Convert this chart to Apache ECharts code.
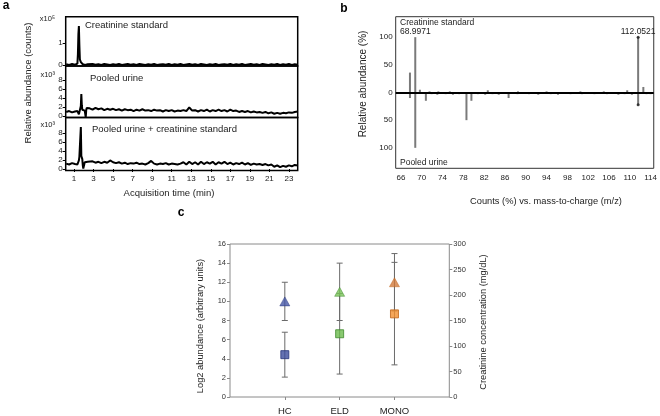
<!DOCTYPE html>
<html><head><meta charset="utf-8">
<script src="https://cdn.jsdelivr.net/npm/echarts@6/dist/echarts.min.js"></script>
<style>html,body{margin:0;padding:0;background:#fff}#c{width:660px;height:416px}</style>
</head><body><div id="c"></div>
<script>
// ---------- Panel a : chromatograms ----------
const timeA = [0.2,0.5,0.8,1.1,
  1.3,1.35,1.4,1.45,1.5,1.55,1.6,1.65,1.7,1.75,1.8,1.85,1.9,1.95,2.0,2.05,2.1,2.15,2.2,2.25,2.3,
  2.4,
  2.6,2.9,3.2,3.5,3.8,4.1,4.4,4.7,5.0,5.3,
  5.6,5.9,6.2,6.5,6.8,7.1,7.4,7.7,8.0,8.3,
  8.6,8.9,9.2,9.5,9.8,10.1,10.4,10.7,11.0,11.3,
  11.6,11.9,12.2,12.5,12.8,13.1,13.4,13.7,14.0,14.3,
  14.6,14.9,15.2,15.5,15.8,16.1,16.4,16.7,17.0,17.3,
  17.6,17.9,18.2,18.5,18.8,19.1,19.4,19.7,20.0,20.3,
  20.6,20.9,21.2,21.5,21.8,22.1,22.4,22.7,23.0,23.3,
  23.6,23.9];
const stdTrace = [0.03,0.0,0.04,0.01,
  0.02,0.06,0.5,1.4,1.77,0.9,0.25,0.18,0.13,0.09,0.06,0.04,0.03,0.02,0.04,0.01,0.03,0.0,0.02,0.04,0.01,
  0.03,
  0.0,0.04,0.01,0.03,0.0,0.04,0.02,0.0,0.03,0.01,
  0.04,0.0,0.02,0.04,0.01,0.03,0.0,0.04,0.02,0.0,
  0.03,0.01,0.04,0.0,0.02,0.03,0.01,0.04,0.0,0.03,
  0.01,0.04,0.0,0.02,0.04,0.01,0.03,0.0,0.04,0.02,
  0.0,0.03,0.01,0.04,0.0,0.02,0.03,0.01,0.04,0.0,
  0.03,0.01,0.04,0.0,0.02,0.04,0.01,0.03,0.0,0.04,
  0.02,0.0,0.03,0.01,0.04,0.0,0.03,0.01,0.04,0.0,
  0.03,0.01];
const urineTrace = [0.9,1.1,0.8,1.0,
  0.9,1.1,0.7,0.9,0.4,0.1,0.3,0.6,2.2,4.9,2.4,1.4,1.7,1.0,1.5,1.7,1.2,0.8,-0.3,1.3,1.8,
  1.5,
  1.7,1.4,1.8,1.5,1.7,1.3,1.6,1.4,1.6,1.3,
  1.5,1.2,1.5,1.3,1.4,1.1,1.4,1.2,1.5,1.2,
  1.3,1.1,1.4,1.2,1.3,1.0,1.3,1.1,1.3,1.0,
  1.2,1.1,1.3,1.1,1.9,1.2,1.3,1.0,1.3,1.1,
  1.4,1.0,1.3,1.1,1.4,1.1,1.3,1.0,1.4,1.1,
  1.2,0.9,1.1,0.9,1.1,0.8,1.0,0.8,0.9,0.7,
  0.9,0.6,0.8,0.5,0.7,0.5,0.7,0.6,0.8,0.7,
  0.9,1.0];
const mixTrace = [1.2,1.0,1.3,1.1,
  1.2,1.0,1.3,1.1,1.9,2.7,3.0,2.8,9.3,2.9,2.6,2.2,0.8,0.1,-0.2,0.3,1.5,1.7,1.4,1.6,1.5,
  1.6,
  1.5,1.7,1.4,1.6,1.3,1.6,1.4,1.9,1.5,1.3,
  1.5,1.2,1.4,1.1,1.3,1.2,1.4,1.1,1.2,1.0,
  1.3,1.8,1.2,1.0,1.2,1.1,1.3,1.0,1.2,1.1,
  1.0,1.2,1.5,1.0,1.6,1.1,1.5,1.0,1.6,1.1,
  1.5,1.2,1.6,1.0,1.5,1.2,1.6,1.1,1.4,1.0,
  1.3,1.1,1.4,1.0,1.3,0.9,1.2,1.0,1.1,0.9,
  1.1,0.8,1.0,0.5,0.8,0.4,0.7,0.5,0.8,0.6,
  0.9,0.8];
const timeTicks = [1,3,5,7,9,11,13,15,17,19,21,23];
const stdTicks = [0,1];
const urineTicks = [0,2,4,6,8];

// ---------- Panel b : mass spectra ----------
const stdMz  = [67.74, 68.76, 69.65, 71.5, 73.2, 75.4, 82.7, 88.5, 94.0, 100.5, 105.0, 109.5, 111.6, 112.6];
const stdInt = [36, 100, 5, 2, 2, 2, 4, 2, 2, 2, 2, 4, 100, 10];
const urineMz  = [67.74, 68.76, 70.8, 71.9, 73.0, 74.6, 76.0, 77.2, 78.6, 79.55, 80.8, 82.2, 83.6, 84.8, 86.7, 88.4, 90.6, 92.4, 94.8, 96.2, 98.6, 100.8, 103.2, 105.6, 107.8, 109.0, 110.4, 111.6, 113.2, 114.0];
const urineInt = [-10, -100, -15, -3, -4, -3, -4, -3, -50, -15, -3, -4, -3, -4, -10, -3, -3, -4, -3, -4, -3, -3, -3, -3, -4, -3, -4, -22, -3, -3];
const peakNames = {'68.76':'68.9971', '111.6':'112.0521'};
const mzTicks = [66,70,74,78,82,86,90,94,98,102,106,110,114];
const abTicks = [-100,-50,0,50,100];

// ---------- Panel c : group summary ----------
const groups = ['HC','ELD','MONO'];
const groupPos = [1,2,3];
const log2Mean = [10,11,12];
const log2Low  = [8,8,9];
const log2High = [12,14,15];
const creatMean = [83,124,163];
const creatLow  = [39,45,63];
const creatHigh = [127,203,264];
const triColors = ['#4556a6','#78c358','#d27a3c'];
const sqColors  = ['#3c4d9e','#6cbb4c','#f2902f'];
const sqBorders = ['#26357a','#3f8a2c','#bf6418'];

const FONT = "'Liberation Sans', Arial, sans-serif";
const chart = echarts.init(document.getElementById('c'));

function trace(arr){ return timeA.map((t,i)=>[t,arr[i]]); }

const aX = (i, showLabel) => ({
  type:'value', gridIndex:i, min:0.15, max:23.9,
  axisLine:{show:false}, splitLine:{show:false},
  axisTick:{show:showLabel, customValues:timeTicks, length:3, lineStyle:{color:'#000'}},
  axisLabel:{show:showLabel, customValues:timeTicks, fontSize:8, color:'#222', fontFamily:FONT, margin:4}
});
const aY = (i, min, max, ticks) => ({
  type:'value', gridIndex:i, min:min, max:max,
  axisLine:{show:false}, splitLine:{show:false},
  axisTick:{show:true, customValues:ticks, length:3, lineStyle:{color:'#000'}},
  axisLabel:{customValues:ticks, fontSize:8, color:'#222', fontFamily:FONT, margin:3}
});

function errRender(params, api){
  const x = api.value(0), lo = api.value(1), hi = api.value(2);
  const p1 = api.coord([x, lo]), p2 = api.coord([x, hi]);
  const w = 3;
  const st = {stroke:'#6a6a6a', lineWidth:1};
  return {type:'group', children:[
    {type:'line', shape:{x1:p1[0],y1:p1[1],x2:p2[0],y2:p2[1]}, style:st},
    {type:'line', shape:{x1:p1[0]-w,y1:p1[1],x2:p1[0]+w,y2:p1[1]}, style:st},
    {type:'line', shape:{x1:p2[0]-w,y1:p2[1],x2:p2[0]+w,y2:p2[1]}, style:st}
  ]};
}

const txt = (text, x, y, opt) => Object.assign({
  type:'text', x:x, y:y,
  style:Object.assign({text:text, fontSize:9, fontFamily:FONT, fill:'#222', align:'center', verticalAlign:'middle'}, (opt&&opt.style)||{})
}, opt && opt.rotation ? {rotation:opt.rotation} : {});

const option = {
  animation:false,
  backgroundColor:'#fff',
  grid:[
    {left:65.7, top:16.7, width:232, height:49.3, show:true, borderColor:'#000', borderWidth:1.5, backgroundColor:'transparent'},
    {left:65.7, top:66, width:232, height:51.5, show:true, borderColor:'#000', borderWidth:1.5, backgroundColor:'transparent'},
    {left:65.7, top:117.5, width:232, height:53, show:true, borderColor:'#000', borderWidth:1.5, backgroundColor:'transparent'},
    {left:395.7, top:16.7, width:259.3, height:151.6, show:true, borderColor:'#333', borderWidth:1, backgroundColor:'transparent'},
    {left:230, top:244, width:219.3, height:153.7, show:true, borderColor:'#8a8a8a', borderWidth:1, backgroundColor:'transparent'}
  ],
  xAxis:[
    aX(0,false), aX(1,false), aX(2,true),
    {type:'value', gridIndex:3, min:65, max:114.6, axisLine:{show:false}, splitLine:{show:false},
     axisTick:{show:false},
     axisLabel:{customValues:mzTicks, fontSize:8, color:'#222', fontFamily:FONT, margin:5}},
    {type:'value', gridIndex:4, min:0, max:4, axisLine:{show:false}, splitLine:{show:false},
     axisTick:{show:true, customValues:groupPos, length:3, lineStyle:{color:'#8a8a8a'}},
     axisLabel:{customValues:groupPos, formatter:v=>groups[groupPos.indexOf(v)]||'', fontSize:9.5, color:'#222', fontFamily:FONT, margin:9}}
  ],
  yAxis:[
    aY(0,-0.05,2.2,stdTicks), aY(1,-0.33,11.1,urineTicks), aY(2,-0.33,11.44,urineTicks),
    {type:'value', gridIndex:3, min:-137, max:137, axisLine:{show:false}, splitLine:{show:false},
     axisTick:{show:false},
     axisLabel:{customValues:abTicks, formatter:v=>String(Math.abs(v)), fontSize:8, color:'#222', fontFamily:FONT, margin:3}},
    {type:'value', gridIndex:4, min:0, max:16, interval:2, axisLine:{show:false}, splitLine:{show:false},
     axisTick:{show:true, length:3, lineStyle:{color:'#8a8a8a'}},
     axisLabel:{fontSize:7.5, color:'#333', fontFamily:FONT, margin:4}},
    {type:'value', gridIndex:4, position:'right', min:0, max:300, interval:50, axisLine:{show:false}, splitLine:{show:false},
     axisTick:{show:true, length:3, lineStyle:{color:'#8a8a8a'}},
     axisLabel:{fontSize:7.5, color:'#333', fontFamily:FONT, margin:4}}
  ],
  series:[
    {type:'line', xAxisIndex:0, yAxisIndex:0, data:trace(stdTrace), showSymbol:false, lineStyle:{color:'#000', width:2}},
    {type:'line', xAxisIndex:1, yAxisIndex:1, data:trace(urineTrace), showSymbol:false, lineStyle:{color:'#000', width:2}},
    {type:'line', xAxisIndex:2, yAxisIndex:2, data:trace(mixTrace), showSymbol:false, lineStyle:{color:'#000', width:2}},
    {type:'bar', xAxisIndex:3, yAxisIndex:3, barWidth:2, barGap:'-100%',
     data:stdMz.map((m,i)=>{
       const d = {value:[m, stdInt[i]]};
       if (peakNames[String(m)]) d.label = {show:true, position:'top', distance:1, formatter:peakNames[String(m)], fontSize:8.5, color:'#222', fontFamily:FONT};
       return d;
     }),
     itemStyle:{color:'#7a7a7a'},
     markLine:{silent:true, symbol:['none','none'], label:{show:false}, data:[{yAxis:0}], lineStyle:{color:'#000', width:2.2, type:'solid'}}},
    {type:'bar', xAxisIndex:3, yAxisIndex:3, barWidth:2, barGap:'-100%',
     data:urineMz.map((m,i)=>[m, urineInt[i]]), itemStyle:{color:'#7a7a7a'}},
    {type:'scatter', xAxisIndex:3, yAxisIndex:3, symbol:'circle', symbolSize:3,
     data:[[stdMz[12], stdInt[12]],[urineMz[27], urineInt[27]]], itemStyle:{color:'#111'}},
    {type:'custom', xAxisIndex:4, yAxisIndex:4, renderItem:errRender, encode:{x:0, y:[1,2]},
     data:groupPos.map((p,i)=>[p, log2Low[i], log2High[i]]), z:2},
    {type:'custom', xAxisIndex:4, yAxisIndex:5, renderItem:errRender, encode:{x:0, y:[1,2]},
     data:groupPos.map((p,i)=>[p, creatLow[i], creatHigh[i]]), z:2},
    {type:'scatter', xAxisIndex:4, yAxisIndex:4, symbol:'triangle', symbolSize:[10,9], z:4,
     data:groupPos.map((p,i)=>({value:[p, log2Mean[i]], itemStyle:{color:triColors[i], borderColor:sqBorders[i], borderWidth:0.6}}))},
    {type:'scatter', xAxisIndex:4, yAxisIndex:5, symbol:'rect', symbolSize:8, z:4,
     data:groupPos.map((p,i)=>({value:[p, creatMean[i]], itemStyle:{color:sqColors[i], borderColor:sqBorders[i], borderWidth:1}}))}
  ],
  graphic:[
    txt('a', 6, 6, {style:{fontSize:12, fontWeight:'bold', fill:'#000'}}),
    txt('b', 344, 9, {style:{fontSize:12, fontWeight:'bold', fill:'#000'}}),
    txt('c', 181, 213, {style:{fontSize:12, fontWeight:'bold', fill:'#000'}}),
    txt('x10\u2075', 55, 19, {style:{fontSize:7.5, align:'right'}}),
    txt('x10\u00B3', 55, 75, {style:{fontSize:7.5, align:'right'}}),
    txt('x10\u00B3', 55, 125, {style:{fontSize:7.5, align:'right'}}),
    txt('Creatinine standard', 85, 25, {style:{align:'left', fontSize:9.5}}),
    txt('Pooled urine', 90, 78, {style:{align:'left', fontSize:9.5}}),
    txt('Pooled urine + creatinine standard', 92, 129, {style:{align:'left', fontSize:9.5}}),
    txt('Relative abundance (counts)', 28, 83, {rotation:Math.PI/2, style:{fontSize:9.5}}),
    txt('Acquisition time (min)', 169, 193, {style:{fontSize:9.5}}),
    txt('Creatinine standard', 400, 22.7, {style:{align:'left', fontSize:8.5}}),
    txt('Pooled urine', 400, 163, {style:{align:'left', fontSize:8.5}}),
    txt('Relative abundance (%)', 363, 84, {rotation:Math.PI/2, style:{fontSize:10}}),
    txt('Counts (%) vs. mass-to-charge (m/z)', 546, 201, {style:{fontSize:9.3}}),
    txt('Log2 abundance (arbitrary units)', 200, 326, {rotation:Math.PI/2, style:{fontSize:9.3}}),
    txt('Creatinine concentration (mg/dL)', 483, 322, {rotation:Math.PI/2, style:{fontSize:9.3}})
  ]
};
chart.setOption(option);
</script>
</body></html>
